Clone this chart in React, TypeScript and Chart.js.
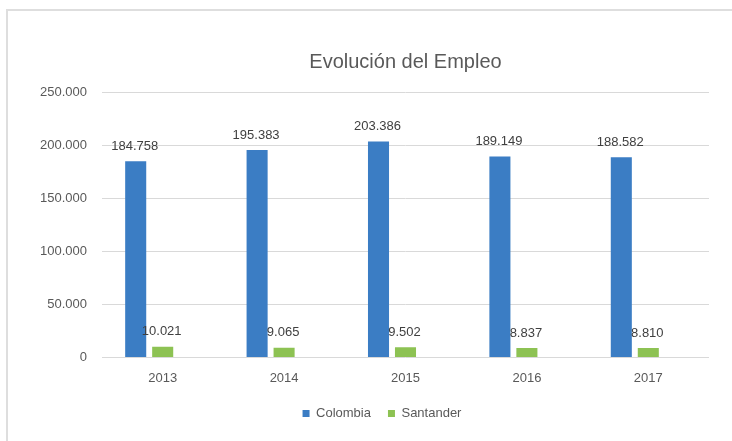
import React, { useEffect, useRef } from "react";
import { Chart, registerables } from "chart.js";

Chart.register(...registerables);

const categories = ["2013", "2014", "2015", "2016", "2017"];
const colombia = [184758, 195383, 203386, 189149, 188582];
const santander = [10021, 9065, 9502, 8837, 8810];
const emptySeries = [null, null, null, null, null];
const seriesNames = ["Colombia", "Santander"];
const titleText = "Evolución del Empleo";
const yMax = 250000;
const yStep = 50000;

const FONT = "'Liberation Sans', Arial, sans-serif";
const TEXT = "#595959";

const fmt = (v: number) =>
  String(Math.round(v)).replace(/\B(?=(\d{3})+(?!\d))/g, ".");

const dataLabels = {
  id: "dataLabels",
  afterDatasetsDraw(chart: any) {
    const ctx = chart.ctx;
    ctx.save();
    ctx.font = `13px ${FONT}`;
    ctx.fillStyle = "#404040";
    ctx.textAlign = "center";
    ctx.textBaseline = "middle";
    for (let d = 0; d < 2; d++) {
      const meta = chart.getDatasetMeta(d);
      const vals = chart.data.datasets[d].data;
      meta.data.forEach((bar: any, i: number) => {
        const v = vals[i];
        if (v == null) return;
        ctx.fillText(fmt(v), bar.x - 1, bar.y - 15);
      });
    }
    ctx.restore();
  },
};

export default function App() {
  const ref = useRef<HTMLCanvasElement | null>(null);

  useEffect(() => {
    if (!ref.current) return;
    const chart = new Chart(ref.current, {
      type: "bar",
      data: {
        labels: categories,
        datasets: [
          {
            label: seriesNames[0],
            data: colombia,
            backgroundColor: "#3b7dc4",
            categoryPercentage: 0.667,
            barPercentage: 0.78,
          },
          {
            label: seriesNames[1],
            data: santander,
            backgroundColor: "#8dc253",
            categoryPercentage: 0.667,
            barPercentage: 0.78,
          },
          {
            label: "",
            data: emptySeries as any,
            backgroundColor: "rgba(0,0,0,0)",
            categoryPercentage: 0.667,
            barPercentage: 0.78,
          },
        ],
      },
      options: {
        responsive: false,
        animation: false,
        layout: { padding: { left: 25, right: 1, top: 10, bottom: 11 } },
        scales: {
          x: {
            grid: { display: false },
            border: { display: false },
            ticks: {
              color: TEXT,
              font: { family: FONT, size: 13 },
              padding: 5,
            },
            afterFit: (s: any) => {
              s.height = s.height - 1;
            },
          },
          y: {
            min: 0,
            max: yMax,
            ticks: {
              stepSize: yStep,
              color: TEXT,
              font: { family: FONT, size: 13 },
              padding: 15,
              callback: (v: any) => fmt(Number(v)),
            },
            grid: { color: "#d9d9d9", lineWidth: 1, drawTicks: false },
            border: { display: false },
          },
          y2: {
            type: "linear",
            position: "right",
            display: true,
            grid: { display: false },
            border: { display: false },
            ticks: { display: false },
            afterFit: (s: any) => {
              s.width = 30;
            },
          },
        },
        plugins: {
          title: {
            display: true,
            text: titleText,
            fullSize: false,
            color: TEXT,
            font: { family: FONT, size: 20, weight: "normal" },
            padding: { top: 40, bottom: 18 },
          },
          legend: {
            position: "bottom",
            labels: {
              boxWidth: 7,
              boxHeight: 7,
              padding: 17,
              color: TEXT,
              font: { family: FONT, size: 13 },
              filter: (item: any) => item.datasetIndex < 2,
            },
          },
          tooltip: { enabled: false },
        },
      } as any,
      plugins: [dataLabels],
    });
    return () => chart.destroy();
  }, []);

  return (
    <div
      style={{
        position: "absolute",
        left: 0,
        top: 0,
        width: 732,
        height: 441,
        overflow: "hidden",
        background: "#fff",
      }}
    >
      <div
        style={{
          position: "absolute",
          left: 6,
          top: 9,
          width: 800,
          height: 500,
          border: "2px solid #dedede",
        }}
      />
      <canvas
        ref={ref}
        width={740}
        height={441}
        style={{ position: "absolute", left: 0, top: 0 }}
      />
    </div>
  );
}
